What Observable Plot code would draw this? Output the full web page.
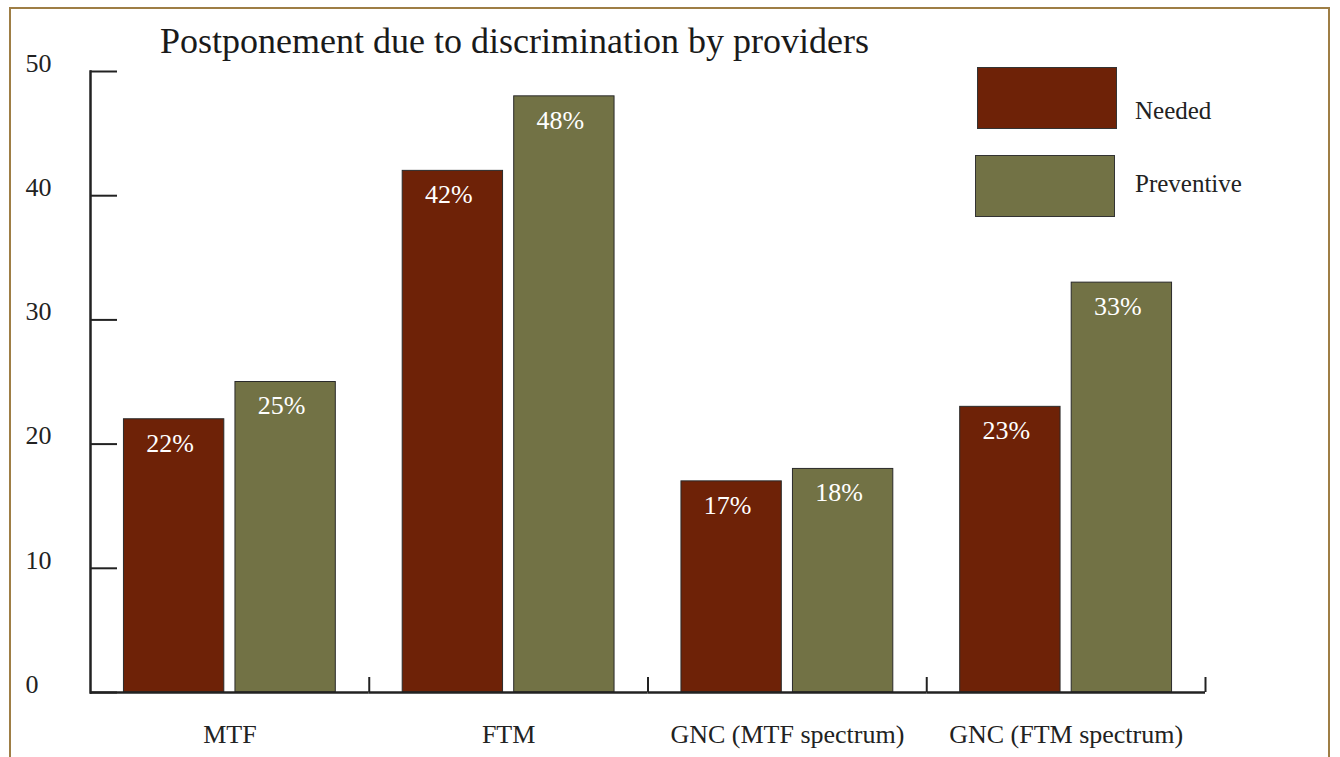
<!DOCTYPE html>
<html><head><meta charset="utf-8">
<script src="https://cdn.jsdelivr.net/npm/d3@7"></script>
<script src="https://cdn.jsdelivr.net/npm/@observablehq/plot@0.6"></script>
<style>
body{margin:0;background:#fff;}
#wrap{position:relative;width:1340px;height:757px;overflow:hidden;font-family:"Liberation Serif",serif;color:#222;}
#border{position:absolute;left:9px;top:7px;width:1321px;height:800px;border:2px solid #9E7E45;border-bottom:none;box-sizing:border-box;}
#title{position:absolute;left:160px;top:23px;font-size:36px;color:#1a1a1a;white-space:nowrap;line-height:1;}
#chart{position:absolute;left:0;top:0;}
.sw{position:absolute;width:140px;height:62px;border:1px solid #333;box-sizing:border-box;}
.lab{position:absolute;font-size:25px;line-height:1;white-space:nowrap;}
</style></head>
<body>
<div id="wrap">
  <div id="border"></div>
  <div id="chart"></div>
  <div id="title"></div>
  <div id="legend"></div>
</div>
<script>
const categories = ["MTF", "FTM", "GNC (MTF spectrum)", "GNC (FTM spectrum)"];
const series = ["Needed", "Preventive"];
const needed = [22, 42, 17, 23];
const preventive = [25, 48, 18, 33];
const yTicks = [0, 10, 20, 30, 40, 50];
const colors = ["#6E2207", "#727245"];
const titleText = "Postponement due to discrimination by providers";

const data = categories.flatMap((c, i) => [
  {cat: c, s: series[0], v: needed[i]},
  {cat: c, s: series[1], v: preventive[i]}
]);

const FF = "Liberation Serif, serif";
const chart = Plot.plot({
  width: 1340, height: 757,
  marginLeft: 90, marginRight: 135, marginTop: 71, marginBottom: 65,
  fx: {domain: categories, padding: 0, round: false, axis: null, label: null},
  x: {domain: series, paddingInner: 0.1, paddingOuter: 0.3, round: false, axis: null, label: null},
  y: {domain: [0, 50], axis: null, label: null},
  color: {domain: series, range: colors},
  style: {fontFamily: FF, fontSize: "22px", color: "#222", background: "transparent", overflow: "visible"},
  marks: [
    Plot.barY(data, {fx: "cat", x: "s", y: "v", fill: "s", stroke: "#2a2a2a", strokeWidth: 1}),
    Plot.text(data, {fx: "cat", x: "s", y: "v", text: d => d.v + "%", fill: "#fff", dy: 24, dx: -4, fontSize: 26, fontFamily: FF}),
    Plot.ruleY([0], {stroke: "#222", strokeWidth: 2.5}),
    Plot.frame({anchor: "left", facetAnchor: "left", stroke: "#222", strokeWidth: 2.5}),
    Plot.axisY(yTicks, {tickSize: -27, tickFormat: () => "", label: null, stroke: "#222", strokeWidth: 2}),
    Plot.axisY(yTicks, {tickSize: 0, tickPadding: 0, textAnchor: "start", dx: -65, dy: -8, label: null, fill: "#222", fontSize: 26, fontFamily: FF}),
    Plot.axisFx({anchor: "bottom", tickSize: 0, tickPadding: 32, label: null, fontSize: 26, fontFamily: FF, fill: "#222"}),
    Plot.axisFx({anchor: "bottom", tickSize: -15, tickFormat: () => "", label: null, dx: 139.375, stroke: "#222", strokeWidth: 2})
  ]
});
document.getElementById("chart").append(chart);
document.getElementById("title").textContent = titleText;

const legend = document.getElementById("legend");
const legPos = [{bx: 977, by: 67, ly: 98}, {bx: 975, by: 155, ly: 171}];
series.forEach((s, i) => {
  const sw = document.createElement("div");
  sw.className = "sw";
  sw.style.left = legPos[i].bx + "px";
  sw.style.top = legPos[i].by + "px";
  sw.style.background = colors[i];
  legend.append(sw);
  const lb = document.createElement("div");
  lb.className = "lab";
  lb.style.left = "1135px";
  lb.style.top = legPos[i].ly + "px";
  lb.textContent = s;
  legend.append(lb);
});
</script>
</body></html>
